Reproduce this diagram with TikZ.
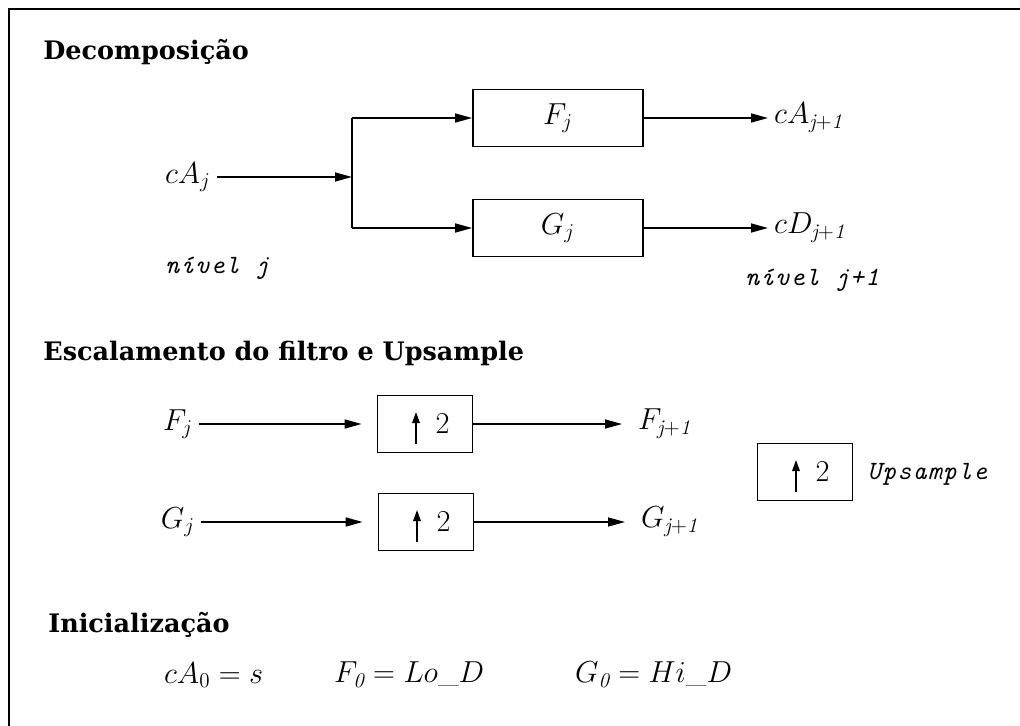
\documentclass[tikz,border=0pt]{standalone}
\usepackage{fontspec}
\setmonofont{Latin Modern Mono}[LetterSpace=5]
\newfontfamily\headfont{DejaVu Serif}
\usetikzlibrary{arrows.meta,positioning}

\begin{document}
\begin{tikzpicture}[x=0.02cm,y=-0.02cm,
  every node/.style={font=\fontsize{17}{20}\selectfont},
  head/.style={anchor=base west,inner sep=0pt,font=\fontsize{14.5}{17}\selectfont\headfont\bfseries},
  nivel/.style={anchor=west,inner sep=0pt,font=\fontsize{15}{18}\selectfont\ttfamily\itshape},
  filt/.style={draw,line width=1pt,minimum width=3.4cm,minimum height=1.14cm},
  upbox/.style={draw,line width=1pt,minimum width=1.9cm,minimum height=1.14cm},
  flow/.style={-{Triangle[length=3.4mm,width=1.8mm]},line width=0.85pt},
  uparr/.style={-{Triangle[length=2.2mm,width=1.5mm]},line width=0.9pt}]
  \useasboundingbox (0,0) rectangle (1020,726);
  \draw[line width=1.6pt] (9,726) -- (9,9) -- (1020,9);

  \node[head] (hdec) at (43,60) {Decomposição};
  \node (cAj) at (188,177) {$cA_j$};
  \coordinate (split) at (352,177);
  \node[filt] (Fj) at (558,118) {$F_j$};
  \node[filt] (Gj) at (558,228) {$G_j$};
  \node[anchor=west] (cA1) at (768,118) {$cA_{\mathit{j+1}}$};
  \node[anchor=west] (cD1) at (768,228) {$cD_{\mathit{j+1}}$};
  \node[nivel] (nvj) at (165,268) {nível j};
  \node[nivel] (nvj1) at (745,280) {nível j+1};

  \draw[flow] (cAj.east |- split) -- (split);
  \draw[line width=0.85pt] (split |- Fj.west) -- (split |- Gj.west);
  \draw[flow] (split |- Fj.west) -- (Fj.west);
  \draw[flow] (split |- Gj.west) -- (Gj.west);
  \draw[flow] (Fj.east) -- (Fj.east -| cA1.west);
  \draw[flow] (Gj.east) -- (Gj.east -| cD1.west);

  \node[head] (hesc) at (43,360) {Escalamento do filtro e Upsample};
  \node (Fin) at (178,424) {$F_j$};
  \node[upbox] (upF) at (425,424) {\hspace*{0.7cm}$2$};
  \node[anchor=west] (Fout) at (632,424) {$F_{\mathit{j+1}}$};
  \node (Gin) at (178,522) {$G_j$};
  \node[upbox] (upG) at (426,522) {\hspace*{0.7cm}$2$};
  \node[anchor=west] (Gout) at (635,522) {$G_{\mathit{j+1}}$};
  \node[upbox] (upK) at (805,472) {\hspace*{0.7cm}$2$};
  \node[nivel] (upTxt) at (867,474) {Upsample};

  \draw[flow,shorten >=0.3cm] (Fin.east) -- (Fin.east -| upF.west);
  \draw[flow,shorten >=0.3cm] (Gin.east) -- (Gin.east -| upG.west);
  \draw[flow,shorten >=0.2cm] (upF.east) -- (upF.east -| Fout.west);
  \draw[flow,shorten >=0.2cm] (upG.east) -- (upG.east -| Gout.west);
  \foreach \b in {upF,upG,upK}
    \draw[uparr] ([shift={(-9,20)}]\b.center) -- ([shift={(-9,-12)}]\b.center);

  \node[head] (hini) at (48,632) {Inicialização};
  \node[anchor=west] (ini1) at (158,675) {$cA_0 = s$};
  \node[anchor=west] (ini2) at (328,675) {$F_{\mathit{0}} = Lo\_D$};
  \node[anchor=west] (ini3) at (569,675) {$G_{\mathit{0}} = Hi\_D$};
\end{tikzpicture}
\end{document}
